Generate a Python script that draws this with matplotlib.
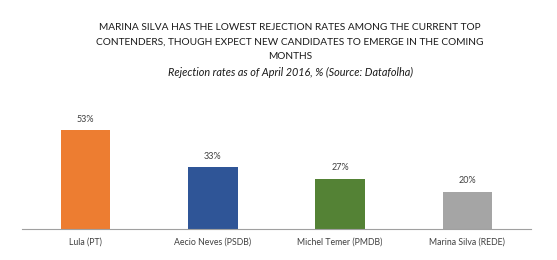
import matplotlib.pyplot as plt

candidates = ['Lula (PT)', 'Aecio Neves (PSDB)', 'Michel Temer (PMDB)', 'Marina Silva (REDE)']
rejection = [53, 33, 27, 20]
colors = ['#ED7D31', '#2F5597', '#548235', '#A5A5A5']

plt.rcParams['font.family'] = ['Lato', 'DejaVu Sans']

fig = plt.figure(figsize=(5.57, 2.6), dpi=100)
W, H = 557, 260
ax = fig.add_axes([22 / W, (H - 229) / H, 509 / W, 112 / H])

x = range(len(candidates))
bars = ax.bar(x, rejection, width=0.39, color=colors)
ax.set_xlim(-0.5, len(candidates) - 0.5)
ax.set_ylim(0, 60)

for b, v in zip(bars, rejection):
    ax.text(b.get_x() + b.get_width() / 2, v + 3.5, f'{v}%', ha='center', va='bottom',
            fontsize=6.5, color='#404040')

ax.set_xticks(list(x))
ax.set_xticklabels(candidates, fontsize=6.3, color='#404040')
ax.tick_params(axis='x', length=0, pad=6)
ax.set_yticks([])
for s in ['top', 'right', 'left']:
    ax.spines[s].set_visible(False)
ax.spines['bottom'].set_color('#A0A0A0')
ax.spines['bottom'].set_linewidth(0.8)

fig.text(290 / W, 1 - 23 / H,
         'MARINA SILVA HAS THE LOWEST REJECTION RATES AMONG THE CURRENT TOP\n'
         'CONTENDERS, THOUGH EXPECT NEW CANDIDATES TO EMERGE IN THE COMING\n'
         'MONTHS',
         ha='center', va='top', fontsize=7.3, color='#1A1A1A', linespacing=1.8)
fig.text(290 / W, 1 - 72 / H, 'Rejection rates as of April 2016, % (Source: Datafolha)',
         ha='center', va='center', fontsize=7.8, style='italic', color='#1A1A1A')

fig.savefig('out.png', dpi=100)
